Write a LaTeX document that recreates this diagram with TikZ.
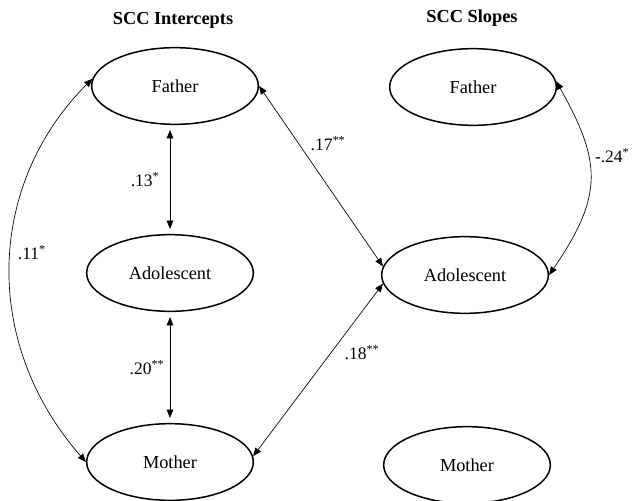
\documentclass[tikz,border=0pt]{standalone}
\usepackage{fontspec}
\setmainfont{Liberation Serif}
\usetikzlibrary{arrows.meta, shapes.geometric}

\begin{document}
\begin{tikzpicture}[
  x=0.6pt, y=-0.6pt,
  latent/.style={draw, ellipse, line width=0.9pt, minimum width=100pt, minimum height=46pt,
              inner sep=0pt, font=\fontsize{11}{13}\selectfont, align=center},
  title/.style={font=\fontsize{11}{13}\selectfont\bfseries},
  cov/.style={{Triangle[length=5pt,width=4pt]}-{Triangle[length=5pt,width=4pt]}, line width=0.4pt},
  coef/.style={font=\fontsize{10.5}{12}\selectfont, inner sep=2pt},
]
\useasboundingbox (0,0) rectangle (632,501);

% Titles
\node[title] (ttlI) at (173, 20) {SCC Intercepts};
\node[title] (ttlS) at (472, 18) {SCC Slopes};

% Intercepts
\node[latent] (fatI) at (175, 86) {Father};
\node[latent] (adoI) at (170, 273) {Adolescent};
\node[latent] (motI) at (170, 462) {Mother};

% Slopes
\node[latent] (fatS) at (473, 87) {Father};
\node[latent] (adoS) at (465, 275) {Adolescent};
\node[latent] (motS) at (467, 465) {Mother};

% Covariances
\draw[cov, shorten <=3pt, shorten >=3pt] (adoI.north |- fatI.south) -- node[coef, left=4pt] {.13\textsuperscript{*}} (adoI.north);
\draw[cov, shorten <=3pt, shorten >=3pt] (adoI.south) -- node[coef, left=1pt] {.20\textsuperscript{**}} (motI.north);
\draw[cov] (fatI.175) .. controls +(-105,105) and +(-105,-120) .. node[coef, pos=.47, right=2pt] {.11\textsuperscript{*}} (motI.west);
\draw[cov] (fatI.east) -- node[coef, pos=.32, right=5pt] {.17\textsuperscript{**}} (adoS.174);
\draw[cov] (motI.4) -- node[coef, pos=.6, right=6pt] {.18\textsuperscript{**}} (adoS.186);
\draw[cov] (fatS.4) .. controls +(45,80) and +(55,-80) .. node[coef, pos=.37, right=2pt] {-.24\textsuperscript{*}} (adoS.east);

\end{tikzpicture}
\end{document}
